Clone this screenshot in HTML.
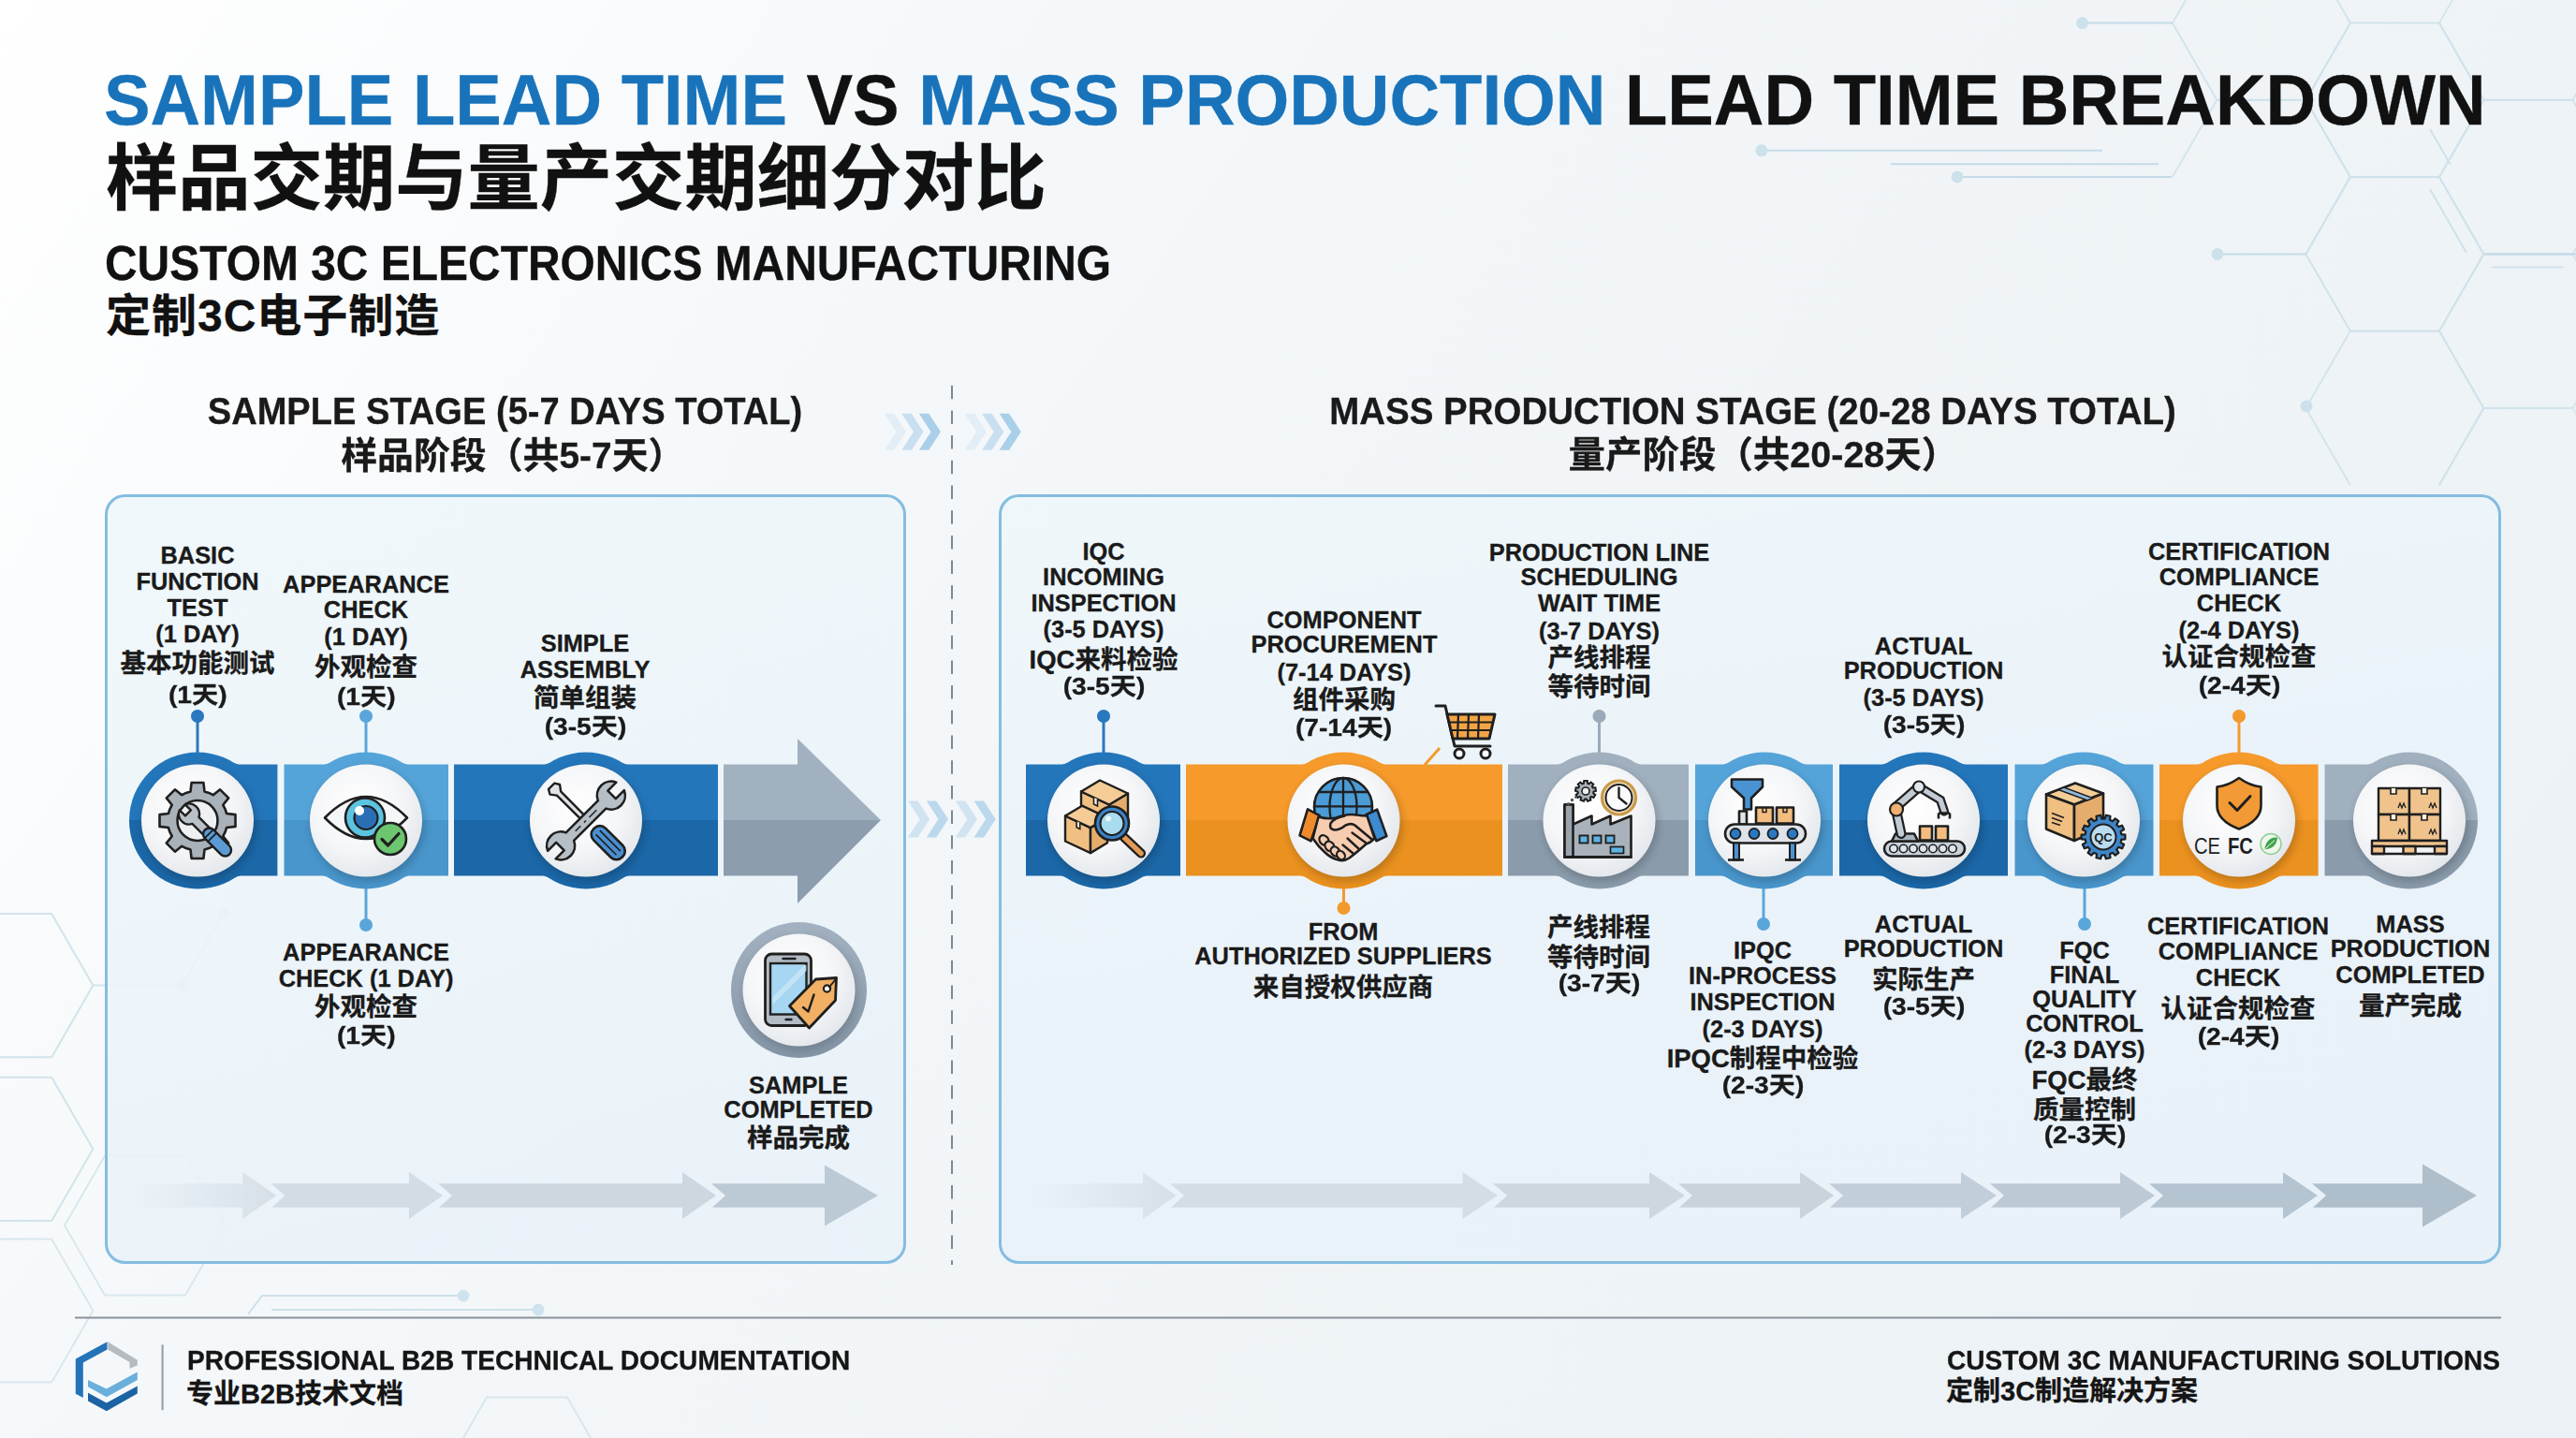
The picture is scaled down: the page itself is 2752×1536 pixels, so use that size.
<!DOCTYPE html>
<html><head><meta charset="utf-8"><title>Sample Lead Time vs Mass Production Lead Time Breakdown</title>
<style>
html,body{margin:0;padding:0;}
body{width:2752px;height:1536px;overflow:hidden;position:relative;font-family:'Liberation Sans','Noto Sans CJK SC',sans-serif;
background:linear-gradient(125deg,#ffffff 0%,#f5f8fa 30%,#f0f4f7 60%,#ebf1f5 100%);}
.t{position:absolute;white-space:nowrap;font-family:'Liberation Sans','Noto Sans CJK SC',sans-serif;-webkit-text-stroke:0.3px currentColor;}
svg{position:absolute;left:0;top:0;}
</style></head><body>
<svg width="2752" height="1536" viewBox="0 0 2752 1536"><defs>
<filter id="blur4" x="-30%" y="-30%" width="160%" height="160%"><feGaussianBlur stdDeviation="4"/></filter>
<radialGradient id="discg" cx="42%" cy="38%" r="65%"><stop offset="0" stop-color="#ffffff"/><stop offset="0.6" stop-color="#f5f6f8"/><stop offset="1" stop-color="#e3e7eb"/></radialGradient>
<linearGradient id="rg_dark" x1="0" y1="0" x2="0" y2="1"><stop offset="0" stop-color="#2677bf"/><stop offset="1" stop-color="#1a63a8"/></linearGradient>
<linearGradient id="rg_light" x1="0" y1="0" x2="0" y2="1"><stop offset="0" stop-color="#5aa6dc"/><stop offset="1" stop-color="#4990c8"/></linearGradient>
<linearGradient id="rg_orange" x1="0" y1="0" x2="0" y2="1"><stop offset="0" stop-color="#f49a2c"/><stop offset="1" stop-color="#e2891c"/></linearGradient>
<linearGradient id="rg_gray" x1="0" y1="0" x2="0" y2="1"><stop offset="0" stop-color="#a3b2c0"/><stop offset="1" stop-color="#8596a7"/></linearGradient>
<linearGradient id="panelg" x1="0" y1="0" x2="0.3" y2="1"><stop offset="0" stop-color="#eef7fa"/><stop offset="0.5" stop-color="#ecf5fa"/><stop offset="1" stop-color="#e9f2f9"/></linearGradient>
<linearGradient id="panelg2" x1="0" y1="0" x2="0.3" y2="1"><stop offset="0" stop-color="#eef7fa"/><stop offset="0.5" stop-color="#eaf3fa"/><stop offset="1" stop-color="#e8f1f9"/></linearGradient>
<linearGradient id="rs_dark" x1="0" y1="0" x2="0" y2="1"><stop offset="0" stop-color="#2476bb"/><stop offset="0.5" stop-color="#2476bb"/><stop offset="0.5" stop-color="#1b67a7"/><stop offset="1" stop-color="#1b67a7"/></linearGradient>
<linearGradient id="rs_light" x1="0" y1="0" x2="0" y2="1"><stop offset="0" stop-color="#55a4d9"/><stop offset="0.5" stop-color="#55a4d9"/><stop offset="0.5" stop-color="#4996cc"/><stop offset="1" stop-color="#4996cc"/></linearGradient>
<linearGradient id="rs_orange" x1="0" y1="0" x2="0" y2="1"><stop offset="0" stop-color="#f69a2b"/><stop offset="0.5" stop-color="#f69a2b"/><stop offset="0.5" stop-color="#ea911f"/><stop offset="1" stop-color="#ea911f"/></linearGradient>
<linearGradient id="rs_gray" x1="0" y1="0" x2="0" y2="1"><stop offset="0" stop-color="#a0b0be"/><stop offset="0.5" stop-color="#a0b0be"/><stop offset="0.5" stop-color="#8a9bab"/><stop offset="1" stop-color="#8a9bab"/></linearGradient>

<linearGradient id="af1" x1="140" y1="0" x2="295" y2="0" gradientUnits="userSpaceOnUse"><stop offset="0" stop-color="#d9e2e9" stop-opacity="0"/><stop offset="1" stop-color="#d6dfe6"/></linearGradient>
<linearGradient id="af2" x1="1099" y1="0" x2="1256" y2="0" gradientUnits="userSpaceOnUse"><stop offset="0" stop-color="#d9e2e9" stop-opacity="0"/><stop offset="1" stop-color="#d6dfe6"/></linearGradient>
</defs>
<g id="bg"><line x1="2510.9" y1="24.6" x2="2463.4" y2="106.9" stroke="#cfe2ea" stroke-width="2" opacity="0.9"/><line x1="2463.4" y1="106.9" x2="2368.4" y2="106.9" stroke="#cfe2ea" stroke-width="2" opacity="0.9"/><line x1="2368.4" y1="106.9" x2="2320.9" y2="24.6" stroke="#cfe2ea" stroke-width="2" opacity="0.9"/><line x1="2320.9" y1="24.6" x2="2368.4" y2="-57.7" stroke="#cfe2ea" stroke-width="2" opacity="0.9"/><line x1="2368.4" y1="-57.7" x2="2463.4" y2="-57.7" stroke="#cfe2ea" stroke-width="2" opacity="0.9"/><line x1="2463.4" y1="-57.7" x2="2510.9" y2="24.6" stroke="#cfe2ea" stroke-width="2" opacity="0.9"/><line x1="2320.9" y1="189.1" x2="2368.4" y2="106.8" stroke="#cfe2ea" stroke-width="2" opacity="0.8"/><line x1="2368.4" y1="106.8" x2="2463.4" y2="106.8" stroke="#cfe2ea" stroke-width="2" opacity="0.8"/><line x1="2463.4" y1="106.8" x2="2510.9" y2="189.1" stroke="#cfe2ea" stroke-width="2" opacity="0.8"/><line x1="2510.9" y1="189.1" x2="2463.4" y2="271.4" stroke="#cfe2ea" stroke-width="2" opacity="0.8"/><line x1="2653.4" y1="106.9" x2="2605.9" y2="189.2" stroke="#cfe2ea" stroke-width="2" opacity="0.9"/><line x1="2605.9" y1="189.2" x2="2510.9" y2="189.2" stroke="#cfe2ea" stroke-width="2" opacity="0.9"/><line x1="2510.9" y1="189.2" x2="2463.4" y2="106.9" stroke="#cfe2ea" stroke-width="2" opacity="0.9"/><line x1="2463.4" y1="106.9" x2="2510.9" y2="24.6" stroke="#cfe2ea" stroke-width="2" opacity="0.9"/><line x1="2510.9" y1="24.6" x2="2605.9" y2="24.6" stroke="#cfe2ea" stroke-width="2" opacity="0.9"/><line x1="2605.9" y1="24.6" x2="2653.4" y2="106.9" stroke="#cfe2ea" stroke-width="2" opacity="0.9"/><line x1="2653.4" y1="271.4" x2="2605.9" y2="353.7" stroke="#cfe2ea" stroke-width="2" opacity="0.95"/><line x1="2605.9" y1="353.7" x2="2510.9" y2="353.7" stroke="#cfe2ea" stroke-width="2" opacity="0.95"/><line x1="2510.9" y1="353.7" x2="2463.4" y2="271.4" stroke="#cfe2ea" stroke-width="2" opacity="0.95"/><line x1="2463.4" y1="271.4" x2="2510.9" y2="189.1" stroke="#cfe2ea" stroke-width="2" opacity="0.95"/><line x1="2510.9" y1="189.1" x2="2605.9" y2="189.1" stroke="#cfe2ea" stroke-width="2" opacity="0.95"/><line x1="2605.9" y1="189.1" x2="2653.4" y2="271.4" stroke="#cfe2ea" stroke-width="2" opacity="0.95"/><line x1="2510.9" y1="518.2" x2="2463.4" y2="435.9" stroke="#cfe2ea" stroke-width="2" opacity="0.85"/><line x1="2463.4" y1="435.9" x2="2510.9" y2="353.6" stroke="#cfe2ea" stroke-width="2" opacity="0.85"/><line x1="2510.9" y1="353.6" x2="2605.9" y2="353.6" stroke="#cfe2ea" stroke-width="2" opacity="0.85"/><line x1="2605.9" y1="353.6" x2="2653.4" y2="435.9" stroke="#cfe2ea" stroke-width="2" opacity="0.85"/><line x1="2653.4" y1="435.9" x2="2605.9" y2="518.2" stroke="#cfe2ea" stroke-width="2" opacity="0.85"/><line x1="2795.9" y1="24.6" x2="2748.4" y2="106.9" stroke="#cfe2ea" stroke-width="2" opacity="0.8"/><line x1="2748.4" y1="106.9" x2="2653.4" y2="106.9" stroke="#cfe2ea" stroke-width="2" opacity="0.8"/><line x1="2653.4" y1="106.9" x2="2605.9" y2="24.6" stroke="#cfe2ea" stroke-width="2" opacity="0.8"/><line x1="2605.9" y1="24.6" x2="2653.4" y2="-57.7" stroke="#cfe2ea" stroke-width="2" opacity="0.8"/><line x1="2653.4" y1="-57.7" x2="2748.4" y2="-57.7" stroke="#cfe2ea" stroke-width="2" opacity="0.8"/><line x1="2748.4" y1="-57.7" x2="2795.9" y2="24.6" stroke="#cfe2ea" stroke-width="2" opacity="0.8"/><line x1="2795.9" y1="189.1" x2="2748.4" y2="271.4" stroke="#cfe2ea" stroke-width="2" opacity="0.85"/><line x1="2748.4" y1="271.4" x2="2653.4" y2="271.4" stroke="#cfe2ea" stroke-width="2" opacity="0.85"/><line x1="2653.4" y1="271.4" x2="2605.9" y2="189.1" stroke="#cfe2ea" stroke-width="2" opacity="0.85"/><line x1="2605.9" y1="189.1" x2="2653.4" y2="106.8" stroke="#cfe2ea" stroke-width="2" opacity="0.85"/><line x1="2653.4" y1="106.8" x2="2748.4" y2="106.8" stroke="#cfe2ea" stroke-width="2" opacity="0.85"/><line x1="2748.4" y1="106.8" x2="2795.9" y2="189.1" stroke="#cfe2ea" stroke-width="2" opacity="0.85"/><line x1="2795.9" y1="353.6" x2="2748.4" y2="435.9" stroke="#cfe2ea" stroke-width="2" opacity="0.8"/><line x1="2748.4" y1="435.9" x2="2653.4" y2="435.9" stroke="#cfe2ea" stroke-width="2" opacity="0.8"/><line x1="2653.4" y1="435.9" x2="2605.9" y2="353.6" stroke="#cfe2ea" stroke-width="2" opacity="0.8"/><line x1="2605.9" y1="353.6" x2="2653.4" y2="271.3" stroke="#cfe2ea" stroke-width="2" opacity="0.8"/><line x1="2653.4" y1="271.3" x2="2748.4" y2="271.3" stroke="#cfe2ea" stroke-width="2" opacity="0.8"/><line x1="2748.4" y1="271.3" x2="2795.9" y2="353.6" stroke="#cfe2ea" stroke-width="2" opacity="0.8"/><line x1="2605.9" y1="518.1" x2="2653.4" y2="435.8" stroke="#cfe2ea" stroke-width="2" opacity="0.6"/><line x1="2653.4" y1="435.8" x2="2748.4" y2="435.8" stroke="#cfe2ea" stroke-width="2" opacity="0.6"/><line x1="2748.4" y1="435.8" x2="2795.9" y2="518.1" stroke="#cfe2ea" stroke-width="2" opacity="0.6"/><g stroke="#cfe2ea" stroke-width="2" fill="none"><line x1="2596" y1="138" x2="2618" y2="176"/><line x1="2596" y1="202" x2="2635" y2="270"/><line x1="2662.5" y1="285.4" x2="2738.5" y2="285.4"/></g><g stroke="#c4dbe7" stroke-width="2" fill="none"><line x1="1882" y1="160.8" x2="2246" y2="160.8"/><line x1="2020" y1="175.2" x2="2306" y2="175.2"/><line x1="2091" y1="188.9" x2="2320" y2="188.9"/><line x1="2224.5" y1="24.6" x2="2320.9" y2="24.6"/><line x1="2369" y1="271.4" x2="2463.4" y2="271.4"/><line x1="2653.4" y1="271.4" x2="2752" y2="271.4"/></g><circle cx="1882" cy="160.8" r="6.5" fill="#cde1eb"/><circle cx="2091" cy="188.9" r="6.5" fill="#cde1eb"/><circle cx="2224.5" cy="24.6" r="6.5" fill="#cde1eb"/><circle cx="2369" cy="271.4" r="6.5" fill="#cde1eb"/><circle cx="2464" cy="434" r="6.5" fill="#cde1eb"/><line x1="99.4" y1="1052.6" x2="55.2" y2="1129.2" stroke="#d2e3eb" stroke-width="2" opacity="1.0"/><line x1="55.2" y1="1129.2" x2="-33.2" y2="1129.2" stroke="#d2e3eb" stroke-width="2" opacity="1.0"/><line x1="-33.2" y1="1129.2" x2="-77.4" y2="1052.6" stroke="#d2e3eb" stroke-width="2" opacity="1.0"/><line x1="-77.4" y1="1052.6" x2="-33.2" y2="976.0" stroke="#d2e3eb" stroke-width="2" opacity="1.0"/><line x1="-33.2" y1="976.0" x2="55.2" y2="976.0" stroke="#d2e3eb" stroke-width="2" opacity="1.0"/><line x1="55.2" y1="976.0" x2="99.4" y2="1052.6" stroke="#d2e3eb" stroke-width="2" opacity="1.0"/><line x1="99.4" y1="1227.3" x2="55.2" y2="1303.9" stroke="#d2e3eb" stroke-width="2" opacity="1.0"/><line x1="55.2" y1="1303.9" x2="-33.2" y2="1303.9" stroke="#d2e3eb" stroke-width="2" opacity="1.0"/><line x1="-33.2" y1="1303.9" x2="-77.4" y2="1227.3" stroke="#d2e3eb" stroke-width="2" opacity="1.0"/><line x1="-77.4" y1="1227.3" x2="-33.2" y2="1150.7" stroke="#d2e3eb" stroke-width="2" opacity="1.0"/><line x1="-33.2" y1="1150.7" x2="55.2" y2="1150.7" stroke="#d2e3eb" stroke-width="2" opacity="1.0"/><line x1="55.2" y1="1150.7" x2="99.4" y2="1227.3" stroke="#d2e3eb" stroke-width="2" opacity="1.0"/><line x1="241.0" y1="1309.0" x2="198.0" y2="1383.5" stroke="#d2e3eb" stroke-width="2" opacity="0.8"/><line x1="198.0" y1="1383.5" x2="112.0" y2="1383.5" stroke="#d2e3eb" stroke-width="2" opacity="0.8"/><line x1="112.0" y1="1383.5" x2="69.0" y2="1309.0" stroke="#d2e3eb" stroke-width="2" opacity="0.8"/><line x1="69.0" y1="1309.0" x2="112.0" y2="1234.5" stroke="#d2e3eb" stroke-width="2" opacity="0.8"/><line x1="112.0" y1="1234.5" x2="198.0" y2="1234.5" stroke="#d2e3eb" stroke-width="2" opacity="0.8"/><line x1="198.0" y1="1234.5" x2="241.0" y2="1309.0" stroke="#d2e3eb" stroke-width="2" opacity="0.8"/><line x1="99.4" y1="1400.0" x2="55.2" y2="1476.6" stroke="#d2e3eb" stroke-width="2" opacity="0.8"/><line x1="55.2" y1="1476.6" x2="-33.2" y2="1476.6" stroke="#d2e3eb" stroke-width="2" opacity="0.8"/><line x1="-33.2" y1="1476.6" x2="-77.4" y2="1400.0" stroke="#d2e3eb" stroke-width="2" opacity="0.8"/><line x1="-77.4" y1="1400.0" x2="-33.2" y2="1323.4" stroke="#d2e3eb" stroke-width="2" opacity="0.8"/><line x1="-33.2" y1="1323.4" x2="55.2" y2="1323.4" stroke="#d2e3eb" stroke-width="2" opacity="0.8"/><line x1="55.2" y1="1323.4" x2="99.4" y2="1400.0" stroke="#d2e3eb" stroke-width="2" opacity="0.8"/><line x1="477.0" y1="1567.0" x2="520.0" y2="1492.5" stroke="#d2e3eb" stroke-width="2" opacity="0.8"/><line x1="520.0" y1="1492.5" x2="606.0" y2="1492.5" stroke="#d2e3eb" stroke-width="2" opacity="0.8"/><line x1="606.0" y1="1492.5" x2="649.0" y2="1567.0" stroke="#d2e3eb" stroke-width="2" opacity="0.8"/><g stroke="#d2e3eb" stroke-width="2" fill="none"><line x1="99.5" y1="1052.6" x2="194.6" y2="1052.6"/><line x1="194.6" y1="1052.6" x2="238.8" y2="975.2"/></g><circle cx="194.6" cy="1052.6" r="6" fill="#d2e3eb"/><circle cx="238.8" cy="975.2" r="6" fill="#d2e3eb"/><g stroke="#cde0ea" stroke-width="2" fill="none"><polyline points="265,1404 280,1384 495,1384"/><line x1="290" y1="1399" x2="575" y2="1399"/></g><circle cx="495" cy="1384" r="6.5" fill="#cfe3ee"/><circle cx="575" cy="1399" r="6.5" fill="#cfe3ee"/></g>
<g id="panels"><rect x="113.5" y="529.5" width="853" height="819" rx="20" fill="url(#panelg)" fill-opacity="0.88" stroke="#84bde0" stroke-width="3"/><rect x="1068.5" y="529.5" width="1602" height="819" rx="20" fill="url(#panelg2)" fill-opacity="0.88" stroke="#84bde0" stroke-width="3"/><line x1="1017" y1="411.7" x2="1017" y2="1351" stroke="#7d8992" stroke-width="2" stroke-dasharray="14.5 12.2"/><path d="M944.8,441.8 L955.3,441.8 L968.0,461.3 L955.3,480.8 L944.8,480.8 L957.5,461.3 Z" fill="#9cc8e6" opacity="0.2"/><path d="M963.3,441.8 L973.8,441.8 L986.5,461.3 L973.8,480.8 L963.3,480.8 L976.0,461.3 Z" fill="#9cc8e6" opacity="0.5"/><path d="M981.8,441.8 L992.3,441.8 L1005.0,461.3 L992.3,480.8 L981.8,480.8 L994.5,461.3 Z" fill="#9cc8e6" opacity="0.85"/><path d="M1030.6,441.8 L1041.1,441.8 L1053.8,461.3 L1041.1,480.8 L1030.6,480.8 L1043.3,461.3 Z" fill="#9cc8e6" opacity="0.2"/><path d="M1049.1,441.8 L1059.6,441.8 L1072.3,461.3 L1059.6,480.8 L1049.1,480.8 L1061.8,461.3 Z" fill="#9cc8e6" opacity="0.5"/><path d="M1067.6,441.8 L1078.1,441.8 L1090.8,461.3 L1078.1,480.8 L1067.6,480.8 L1080.3,461.3 Z" fill="#9cc8e6" opacity="0.85"/><path d="M970.0,855.6 L980.5,855.6 L993.2,875.1 L980.5,894.6 L970.0,894.6 L982.7,875.1 Z" fill="#9cc8e6" opacity="0.4"/><path d="M989.8,855.6 L1000.3,855.6 L1013.0,875.1 L1000.3,894.6 L989.8,894.6 L1002.5,875.1 Z" fill="#9cc8e6" opacity="0.65"/><path d="M1020.7,855.6 L1031.2,855.6 L1043.9,875.1 L1031.2,894.6 L1020.7,894.6 L1033.4,875.1 Z" fill="#9cc8e6" opacity="0.4"/><path d="M1040.5,855.6 L1051.0,855.6 L1063.7,875.1 L1051.0,894.6 L1040.5,894.6 L1053.2,875.1 Z" fill="#9cc8e6" opacity="0.65"/><path d="M140,1264.3 L259,1264.3 L259,1252 L295.4,1277 L259,1302 L259,1289.7 L140,1289.7 Z" fill="url(#af1)"/><path d="M289.4,1264.3 L437,1264.3 L437,1252 L473,1277 L437,1302 L437,1289.7 L290.4,1289.7 L304.4,1277 Z" fill="#d2dce4"/><path d="M468,1264.3 L729,1264.3 L729,1252 L765,1277 L729,1302 L729,1289.7 L469,1289.7 L483,1277 Z" fill="#ccd7e0"/><path d="M760,1264.3 L881,1264.3 L881,1244.5 L938,1277 L881,1309.5 L881,1289.7 L761,1289.7 L775,1277 Z" fill="#bccad6"/><path d="M1099,1264.3 L1221,1264.3 L1221,1252 L1256.5,1277 L1221,1302 L1221,1289.7 L1099,1289.7 Z" fill="url(#af2)"/><path d="M1250,1264.3 L1562.5,1264.3 L1562.5,1252 L1600,1277 L1562.5,1302 L1562.5,1289.7 L1251,1289.7 L1265,1277 Z" fill="#d3dde4"/><path d="M1595,1264.3 L1762,1264.3 L1762,1252 L1800,1277 L1762,1302 L1762,1289.7 L1596,1289.7 L1610,1277 Z" fill="#cdd7df"/><path d="M1793,1264.3 L1923,1264.3 L1923,1252 L1959,1277 L1923,1302 L1923,1289.7 L1794,1289.7 L1808,1277 Z" fill="#c8d3dc"/><path d="M1954,1264.3 L2095,1264.3 L2095,1252 L2133,1277 L2095,1302 L2095,1289.7 L1955,1289.7 L1969,1277 Z" fill="#c2ceda"/><path d="M2126,1264.3 L2265,1264.3 L2265,1252 L2302,1277 L2265,1302 L2265,1289.7 L2127,1289.7 L2141,1277 Z" fill="#bdcad6"/><path d="M2296,1264.3 L2439,1264.3 L2439,1252 L2476,1277 L2439,1302 L2439,1289.7 L2297,1289.7 L2311,1277 Z" fill="#b5c4d1"/><path d="M2470,1264.3 L2588,1264.3 L2588,1243.5 L2646,1277 L2588,1310.5 L2588,1289.7 L2471,1289.7 L2485,1277 Z" fill="#aebecb"/></g>
<g id="timeline"><rect x="211" y="816.5" width="85.39999999999998" height="59.5" fill="#2476bb"/><rect x="211" y="876" width="85.39999999999998" height="59.5" fill="#1b67a7"/><rect x="303.5" y="816.5" width="175.5" height="59.5" fill="#55a4d9"/><rect x="303.5" y="876" width="175.5" height="59.5" fill="#4996cc"/><rect x="485" y="816.5" width="282" height="59.5" fill="#2476bb"/><rect x="485" y="876" width="282" height="59.5" fill="#1b67a7"/><path d="M773,816.5 L852,816.5 L852,789 L941,876 L773,876 Z" fill="#a2b1bf"/><path d="M773,876 L941,876 L852,965 L852,935.5 L773,935.5 Z" fill="#8c9dad"/><rect x="1096" y="816.5" width="165" height="59.5" fill="#2476bb"/><rect x="1096" y="876" width="165" height="59.5" fill="#1b67a7"/><rect x="1267" y="816.5" width="338" height="59.5" fill="#f69a2b"/><rect x="1267" y="876" width="338" height="59.5" fill="#ea911f"/><rect x="1611" y="816.5" width="193" height="59.5" fill="#a0b0be"/><rect x="1611" y="876" width="193" height="59.5" fill="#8a9bab"/><rect x="1811" y="816.5" width="147" height="59.5" fill="#55a4d9"/><rect x="1811" y="876" width="147" height="59.5" fill="#4996cc"/><rect x="1965" y="816.5" width="180" height="59.5" fill="#2476bb"/><rect x="1965" y="876" width="180" height="59.5" fill="#1b67a7"/><rect x="2152.5" y="816.5" width="148.0" height="59.5" fill="#55a4d9"/><rect x="2152.5" y="876" width="148.0" height="59.5" fill="#4996cc"/><rect x="2307" y="816.5" width="169.5999999999999" height="59.5" fill="#f69a2b"/><rect x="2307" y="876" width="169.5999999999999" height="59.5" fill="#ea911f"/><rect x="2483.5" y="816.5" width="90.5" height="59.5" fill="#a0b0be"/><rect x="2483.5" y="876" width="90.5" height="59.5" fill="#8a9bab"/><line x1="211" y1="765" x2="211" y2="805" stroke="#2a78bf" stroke-width="3"/><circle cx="211" cy="765" r="7" fill="#2a78bf"/><line x1="391" y1="765" x2="391" y2="805" stroke="#5aa6da" stroke-width="3"/><circle cx="391" cy="765" r="7" fill="#5aa6da"/><line x1="391" y1="988" x2="391" y2="948" stroke="#5aa6da" stroke-width="3"/><circle cx="391" cy="988" r="7" fill="#5aa6da"/><line x1="1179" y1="765" x2="1179" y2="805" stroke="#2a78bf" stroke-width="3"/><circle cx="1179" cy="765" r="7" fill="#2a78bf"/><line x1="1708.5" y1="765" x2="1708.5" y2="805" stroke="#9aaab8" stroke-width="3"/><circle cx="1708.5" cy="765" r="7" fill="#9aaab8"/><line x1="2392" y1="765" x2="2392" y2="805" stroke="#f29a2e" stroke-width="3"/><circle cx="2392" cy="765" r="7" fill="#f29a2e"/><line x1="1435.5" y1="970" x2="1435.5" y2="948" stroke="#f29a2e" stroke-width="3"/><circle cx="1435.5" cy="970" r="7" fill="#f29a2e"/><line x1="1884" y1="987" x2="1884" y2="948" stroke="#5aa6da" stroke-width="3"/><circle cx="1884" cy="987" r="7" fill="#5aa6da"/><line x1="2227" y1="987" x2="2227" y2="948" stroke="#5aa6da" stroke-width="3"/><circle cx="2227" cy="987" r="7" fill="#5aa6da"/><path d="M255.31,816.5 L249.58,818.50 L250.44,815.07 A9,9 0 0 0 255.31,816.5 Z" fill="#2476bb"/><path d="M256.83,935.5 L250.99,933.50 L251.80,937.04 A9,9 0 0 1 256.83,935.5 Z" fill="#1b67a7"/><circle cx="211" cy="876.5" r="73" fill="url(#rs_dark)"/><circle cx="213" cy="880.5" r="61" fill="#000" opacity="0.18" filter="url(#blur4)"/><circle cx="211" cy="876.5" r="60" fill="url(#discg)"/><g transform="translate(211,876.5) scale(1.0)"><path d="M-7.5,-31.1 L-6.4,-40.5 L6.4,-40.5 L7.5,-31.1 L12.2,-29.6 L16.7,-27.3 L24.1,-33.2 L33.2,-24.1 L27.3,-16.7 L29.6,-12.2 L31.1,-7.5 L40.5,-6.4 L40.5,6.4 L31.1,7.5 L29.6,12.2 L27.3,16.7 L33.2,24.1 L24.1,33.2 L16.7,27.3 L12.2,29.6 L7.5,31.1 L6.4,40.5 L-6.4,40.5 L-7.5,31.1 L-12.2,29.6 L-16.7,27.3 L-24.1,33.2 L-33.2,24.1 L-27.3,16.7 L-29.6,12.2 L-31.1,7.5 L-40.5,6.4 L-40.5,-6.4 L-31.1,-7.5 L-29.6,-12.2 L-27.3,-16.7 L-33.2,-24.1 L-24.1,-33.2 L-16.7,-27.3 L-12.2,-29.6Z" fill="#a9b1b9" stroke="#1f1f1f" stroke-width="2.6" stroke-linejoin="round"/><circle r="21.5" fill="#eef0f2" stroke="#1f1f1f" stroke-width="2.6"/><g transform="translate(-9,-7) rotate(45)"><path d="M-10.17,4.2 L-1.5,4.2 L-1.5,-4.2 L-10.17,-4.2 A11,11 0 0 1 9.80,-5 L30,-5 L30,5 L9.80,5 A11,11 0 0 1 -10.17,4.2 Z" fill="#b9c0c7" stroke="#1f1f1f" stroke-width="2.4" stroke-linejoin="round"/><rect x="24" y="-6.5" width="37" height="13" rx="6.5" fill="#5b9bd5" stroke="#1f1f1f" stroke-width="2.4"/><line x1="30" y1="-6.5" x2="30" y2="6.5" stroke="#1f1f1f" stroke-width="1.8"/><line x1="35" y1="-6.5" x2="35" y2="6.5" stroke="#1f1f1f" stroke-width="1.8"/></g></g><path d="M346.69,816.5 L352.42,818.50 L351.56,815.07 A9,9 0 0 1 346.69,816.5 Z" fill="#55a4d9"/><path d="M435.31,816.5 L429.58,818.50 L430.44,815.07 A9,9 0 0 0 435.31,816.5 Z" fill="#55a4d9"/><path d="M345.17,935.5 L351.01,933.50 L350.20,937.04 A9,9 0 0 0 345.17,935.5 Z" fill="#4996cc"/><path d="M436.83,935.5 L430.99,933.50 L431.80,937.04 A9,9 0 0 1 436.83,935.5 Z" fill="#4996cc"/><circle cx="391" cy="876.5" r="73" fill="url(#rs_light)"/><circle cx="393" cy="880.5" r="61" fill="#000" opacity="0.18" filter="url(#blur4)"/><circle cx="391" cy="876.5" r="60" fill="url(#discg)"/><g transform="translate(391,876.5) scale(1.0)"><path d="M-44,-1 Q0,-46 44,-1 Q0,44 -44,-1 Z" fill="#f4f6f8" stroke="#1f1f1f" stroke-width="2.6" stroke-linejoin="round" transform="translate(0,-2)"/><circle cx="-1" cy="-3" r="21" fill="#5cc3e0" stroke="#1f1f1f" stroke-width="2.6"/><circle cx="0" cy="-3" r="12.5" fill="#2a6fb6" stroke="#1f1f1f" stroke-width="2.2"/><circle cx="-7" cy="-10.5" r="5" fill="#fff"/><circle cx="26" cy="19.5" r="17" fill="#6cc56f" stroke="#1f1f1f" stroke-width="2.6"/><path d="M17,20 L23.5,26.5 L35,14" fill="none" stroke="#1f1f1f" stroke-width="3.2" stroke-linecap="round" stroke-linejoin="round"/></g><path d="M581.69,816.5 L587.42,818.50 L586.56,815.07 A9,9 0 0 1 581.69,816.5 Z" fill="#2476bb"/><path d="M670.31,816.5 L664.58,818.50 L665.44,815.07 A9,9 0 0 0 670.31,816.5 Z" fill="#2476bb"/><path d="M580.17,935.5 L586.01,933.50 L585.20,937.04 A9,9 0 0 0 580.17,935.5 Z" fill="#1b67a7"/><path d="M671.83,935.5 L665.99,933.50 L666.80,937.04 A9,9 0 0 1 671.83,935.5 Z" fill="#1b67a7"/><circle cx="626" cy="876.5" r="73" fill="url(#rs_dark)"/><circle cx="628" cy="880.5" r="61" fill="#000" opacity="0.18" filter="url(#blur4)"/><circle cx="626" cy="876.5" r="60" fill="url(#discg)"/><g transform="translate(626,876.5) scale(1.0)"><g transform="rotate(45)"><path d="M-52,-4.5 L-47,-7.5 L-41,-3 L-2,-2.8 L-2,2.8 L-41,3 L-47,7.5 L-52,4.5 Z" fill="#dfe3e7" stroke="#1f1f1f" stroke-width="2.4" stroke-linejoin="round"/><rect x="12" y="-9" width="43" height="18" rx="8.5" fill="#4a8fd0" stroke="#1f1f1f" stroke-width="2.6"/><line x1="18" y1="-3" x2="49" y2="-3" stroke="#1f1f1f" stroke-width="1.7"/><line x1="18" y1="3" x2="49" y2="3" stroke="#1f1f1f" stroke-width="1.7"/></g><g transform="rotate(-45)"><path d="M-24.25,-6 L24.25,-6 A15,15 0 0 1 51.75,-6 L39,-6 L39,6 L51.75,6 A15,15 0 0 1 24.25,6 L-24.25,6 A15,15 0 0 1 -51.75,6 L-39,6 L-39,-6 L-51.75,-6 A15,15 0 0 1 -24.25,-6 Z" fill="#b6bec6" stroke="#1f1f1f" stroke-width="2.6" stroke-linejoin="round"/><line x1="-16" y1="0" x2="-8" y2="0" stroke="#1f1f1f" stroke-width="1.5"/><line x1="-3" y1="0" x2="0" y2="0" stroke="#1f1f1f" stroke-width="1.5"/><line x1="5" y1="0" x2="16" y2="0" stroke="#1f1f1f" stroke-width="1.5"/></g></g><path d="M1134.69,816.5 L1140.42,818.50 L1139.56,815.07 A9,9 0 0 1 1134.69,816.5 Z" fill="#2476bb"/><path d="M1223.31,816.5 L1217.58,818.50 L1218.44,815.07 A9,9 0 0 0 1223.31,816.5 Z" fill="#2476bb"/><path d="M1133.17,935.5 L1139.01,933.50 L1138.20,937.04 A9,9 0 0 0 1133.17,935.5 Z" fill="#1b67a7"/><path d="M1224.83,935.5 L1218.99,933.50 L1219.80,937.04 A9,9 0 0 1 1224.83,935.5 Z" fill="#1b67a7"/><circle cx="1179" cy="876.5" r="73" fill="url(#rs_dark)"/><circle cx="1181" cy="880.5" r="61" fill="#000" opacity="0.18" filter="url(#blur4)"/><circle cx="1179" cy="876.5" r="60" fill="url(#discg)"/><g transform="translate(1179,876.5) scale(1.0)"><path d="M-24,-31 L6.0,-17.0 L6.0,13.0 L-24,-1.0 Z" fill="#f0bf82" stroke="#1f1f1f" stroke-width="2.4" stroke-linejoin="round"/><path d="M6.0,-17.0 L26.0,-29.0 L26.0,1.0 L6.0,13.0 Z" fill="#e5ad6c" stroke="#1f1f1f" stroke-width="2.4" stroke-linejoin="round"/><path d="M-24,-31 L6.0,-17.0 L26.0,-29.0 L-4.0,-43.0 Z" fill="#f5cc96" stroke="#1f1f1f" stroke-width="2.4" stroke-linejoin="round"/><path d="M-10.5,-24.7 l0,7.199999999999999 l4.0,2.0 l0,-7.199999999999999" fill="#fff3e0" stroke="#1f1f1f" stroke-width="1.6"/><path d="M-41,-5 L-14.0,7.6 L-14.0,34.6 L-41,22.0 Z" fill="#f0bf82" stroke="#1f1f1f" stroke-width="2.4" stroke-linejoin="round"/><path d="M-14.0,7.6 L4.0,-3.1999999999999993 L4.0,23.8 L-14.0,34.6 Z" fill="#e5ad6c" stroke="#1f1f1f" stroke-width="2.4" stroke-linejoin="round"/><path d="M-41,-5 L-14.0,7.6 L4.0,-3.1999999999999993 L-23.0,-15.799999999999999 Z" fill="#f5cc96" stroke="#1f1f1f" stroke-width="2.4" stroke-linejoin="round"/><path d="M-28.85,0.6699999999999999 l0,6.4799999999999995 l3.6,1.8 l0,-6.4799999999999995" fill="#fff3e0" stroke="#1f1f1f" stroke-width="1.6"/><line x1="22" y1="18" x2="40" y2="35" stroke="#1f1f1f" stroke-width="10" stroke-linecap="round"/><line x1="22" y1="18" x2="40" y2="35" stroke="#e39a55" stroke-width="5.5" stroke-linecap="round"/><circle cx="9" cy="3" r="18" fill="#3b82c4" stroke="#1f1f1f" stroke-width="2.6"/><circle cx="9" cy="3" r="12.5" fill="#a9dcef" stroke="#1f1f1f" stroke-width="2.2"/><circle cx="5" cy="-2" r="3" fill="#e8f6fc"/></g><path d="M1391.19,816.5 L1396.92,818.50 L1396.06,815.07 A9,9 0 0 1 1391.19,816.5 Z" fill="#f69a2b"/><path d="M1479.81,816.5 L1474.08,818.50 L1474.94,815.07 A9,9 0 0 0 1479.81,816.5 Z" fill="#f69a2b"/><path d="M1389.67,935.5 L1395.51,933.50 L1394.70,937.04 A9,9 0 0 0 1389.67,935.5 Z" fill="#ea911f"/><path d="M1481.33,935.5 L1475.49,933.50 L1476.30,937.04 A9,9 0 0 1 1481.33,935.5 Z" fill="#ea911f"/><circle cx="1435.5" cy="876.5" r="73" fill="url(#rs_orange)"/><circle cx="1437.5" cy="880.5" r="61" fill="#000" opacity="0.18" filter="url(#blur4)"/><circle cx="1435.5" cy="876.5" r="60" fill="url(#discg)"/><g transform="translate(1435.5,876.5) scale(1.0)"><circle cx="-0.5" cy="-14.5" r="31" fill="#4b9bd6" stroke="#1f1f1f" stroke-width="2.6" stroke-linejoin="round" stroke-linecap="round"/><ellipse cx="-0.5" cy="-14.5" rx="14.5" ry="31" fill="none" stroke="#1f1f1f" stroke-width="2.3"/><line x1="-0.5" y1="-45.5" x2="-0.5" y2="16.5" stroke="#1f1f1f" stroke-width="2.3"/><line x1="-27.1" y1="-30.5" x2="26.1" y2="-30.5" stroke="#1f1f1f" stroke-width="2.3"/><line x1="-31.5" y1="-15.2" x2="30.5" y2="-15.2" stroke="#1f1f1f" stroke-width="2.3"/><line x1="-27.9" y1="0" x2="26.9" y2="0" stroke="#1f1f1f" stroke-width="2.3"/><path d="M-47,15.8 L-38.5,-12.2 L-25.7,-5.4 L-35,21.8 Z" fill="#ee8a2c" stroke="#1f1f1f" stroke-width="2.6" stroke-linejoin="round" stroke-linecap="round"/><path d="M23.8,-6.3 L35.7,-11.8 L45.9,16.6 L34.9,21.7 Z" fill="#3d8bd0" stroke="#1f1f1f" stroke-width="2.6" stroke-linejoin="round" stroke-linecap="round"/><path d="M-27,-4 Q-16,-1 -8,-3 Q4,-8 14,-6 Q20,-5 25,-5 L33,19 Q28,24 24,25 Q14,34 6,40 Q0,44 -6,42 Q-14,40 -20,34 Q-27,28 -33,19 Z" fill="#f6cdb1" stroke="#1f1f1f" stroke-width="2.6" stroke-linejoin="round" stroke-linecap="round"/><path d="M1,-5 Q-10,-3 -14,3 Q-16,9 -10,10 Q-4,10 2,5 L5,4 Q9,3 12,5 L30,20" fill="#f6cdb1" stroke="#1f1f1f" stroke-width="2.6" stroke-linejoin="round" stroke-linecap="round"/><line x1="9" y1="13" x2="24" y2="24" stroke="#1f1f1f" stroke-width="2.4" stroke-linecap="round"/><line x1="4" y1="19" x2="17" y2="31" stroke="#1f1f1f" stroke-width="2.4" stroke-linecap="round"/><line x1="-1" y1="26" x2="10" y2="35" stroke="#1f1f1f" stroke-width="2.4" stroke-linecap="round"/><ellipse cx="-21" cy="21" rx="4.6" ry="5.75" transform="rotate(-40 -21 21)" fill="#f6cdb1" stroke="#1f1f1f" stroke-width="2.2"/><ellipse cx="-15" cy="27.5" rx="4.6" ry="5.75" transform="rotate(-40 -15 27.5)" fill="#f6cdb1" stroke="#1f1f1f" stroke-width="2.2"/><ellipse cx="-9" cy="33" rx="4.4" ry="5.5" transform="rotate(-40 -9 33)" fill="#f6cdb1" stroke="#1f1f1f" stroke-width="2.2"/><ellipse cx="-3" cy="37" rx="4" ry="5.0" transform="rotate(-40 -3 37)" fill="#f6cdb1" stroke="#1f1f1f" stroke-width="2.2"/></g><path d="M1664.19,816.5 L1669.92,818.50 L1669.06,815.07 A9,9 0 0 1 1664.19,816.5 Z" fill="#a0b0be"/><path d="M1752.81,816.5 L1747.08,818.50 L1747.94,815.07 A9,9 0 0 0 1752.81,816.5 Z" fill="#a0b0be"/><path d="M1662.67,935.5 L1668.51,933.50 L1667.70,937.04 A9,9 0 0 0 1662.67,935.5 Z" fill="#8a9bab"/><path d="M1754.33,935.5 L1748.49,933.50 L1749.30,937.04 A9,9 0 0 1 1754.33,935.5 Z" fill="#8a9bab"/><circle cx="1708.5" cy="876.5" r="73" fill="url(#rs_gray)"/><circle cx="1710.5" cy="880.5" r="61" fill="#000" opacity="0.18" filter="url(#blur4)"/><circle cx="1708.5" cy="876.5" r="60" fill="url(#discg)"/><g transform="translate(1708.5,876.5) scale(1.0)"><path d="M-37,39 L-37,-17 L-28,-17 L-28,4 L-8,-5 L-8,4 L12,-5 L12,4 L34,-5 L34,39 Z" fill="#a9b2ba" stroke="#1f1f1f" stroke-width="2.6" stroke-linejoin="round"/><rect x="-37" y="-17" width="9" height="56" fill="#9aa4ad" stroke="#1f1f1f" stroke-width="2.6" stroke-linejoin="round"/><rect x="-21" y="16" width="9" height="8" fill="#5fb3e3" stroke="#1f1f1f" stroke-width="1.9"/><rect x="-7" y="16" width="9" height="8" fill="#5fb3e3" stroke="#1f1f1f" stroke-width="1.9"/><rect x="7" y="16" width="9" height="8" fill="#5fb3e3" stroke="#1f1f1f" stroke-width="1.9"/><rect x="12" y="28" width="14" height="7" fill="#5fb3e3" stroke="#1f1f1f" stroke-width="1.7"/><line x1="-38" y1="39" x2="35" y2="39" stroke="#1f1f1f" stroke-width="3"/><g transform="translate(-14.5,-31.5)"><path d="M-2.1,-8.2 L-1.8,-10.9 L1.8,-10.9 L2.1,-8.2 L2.9,-8.0 L3.7,-7.7 L5.6,-9.5 L8.3,-7.2 L6.9,-5.0 L7.4,-4.2 L7.7,-3.5 L10.4,-3.6 L11.0,-0.1 L8.5,0.6 L8.4,1.5 L8.2,2.3 L10.3,3.9 L8.5,7.0 L6.1,5.9 L5.5,6.5 L4.8,7.0 L5.4,9.6 L2.0,10.8 L0.8,8.5 L0.0,8.5 L-0.8,8.5 L-2.0,10.8 L-5.4,9.6 L-4.8,7.0 L-5.5,6.5 L-6.1,5.9 L-8.5,7.0 L-10.3,3.9 L-8.2,2.3 L-8.4,1.5 L-8.5,0.6 L-11.0,-0.1 L-10.4,-3.6 L-7.7,-3.5 L-7.4,-4.2 L-6.9,-5.0 L-8.3,-7.2 L-5.6,-9.5 L-3.7,-7.7 L-2.9,-8.0Z" fill="#a8b0b8" stroke="#1f1f1f" stroke-width="2"/><circle r="4" fill="#eee" stroke="#1f1f1f" stroke-width="1.6"/></g><circle cx="-29" cy="-22" r="1.7" fill="#555"/><circle cx="-33" cy="-18" r="1.5" fill="#555"/><circle cx="-25" cy="-25" r="1.4" fill="#555"/><circle cx="21" cy="-24.5" r="18" fill="#f1e0c2" stroke="#c99a4a" stroke-width="3.2"/><circle cx="21" cy="-24.5" r="14" fill="#fbfbfb" stroke="#1f1f1f" stroke-width="2"/><path d="M21,-35 L21,-24.5 L29,-18" fill="none" stroke="#1f1f1f" stroke-width="2.4" stroke-linecap="round"/></g><path d="M1840.69,816.5 L1846.42,818.50 L1845.56,815.07 A9,9 0 0 1 1840.69,816.5 Z" fill="#55a4d9"/><path d="M1929.31,816.5 L1923.58,818.50 L1924.44,815.07 A9,9 0 0 0 1929.31,816.5 Z" fill="#55a4d9"/><path d="M1839.17,935.5 L1845.01,933.50 L1844.20,937.04 A9,9 0 0 0 1839.17,935.5 Z" fill="#4996cc"/><path d="M1930.83,935.5 L1924.99,933.50 L1925.80,937.04 A9,9 0 0 1 1930.83,935.5 Z" fill="#4996cc"/><circle cx="1885" cy="876.5" r="73" fill="url(#rs_light)"/><circle cx="1887" cy="880.5" r="61" fill="#000" opacity="0.18" filter="url(#blur4)"/><circle cx="1885" cy="876.5" r="60" fill="url(#discg)"/><g transform="translate(1885,876.5) scale(1.0)"><path d="M-35,-44 L-2,-44 L-2,-36 L-14,-24 L-14,-12 L-22,-12 L-22,-24 L-35,-36 Z" fill="#4a93d2" stroke="#1f1f1f" stroke-width="2.6" stroke-linejoin="round"/><rect x="-27" y="-10" width="8" height="14" fill="#dfe4e8" stroke="#1f1f1f" stroke-width="2.6" stroke-linejoin="round"/><rect x="-9" y="-14" width="18" height="17" fill="#f3bd80" stroke="#1f1f1f" stroke-width="2.6" stroke-linejoin="round"/><rect x="13" y="-14" width="18" height="17" fill="#f3bd80" stroke="#1f1f1f" stroke-width="2.6" stroke-linejoin="round"/><path d="M-2,-14 v5 h4 v-5" fill="none" stroke="#1f1f1f" stroke-width="1.4"/><path d="M20,-14 v5 h4 v-5" fill="none" stroke="#1f1f1f" stroke-width="1.4"/><rect x="-42" y="4" width="86" height="20" rx="10" fill="#dde3e8" stroke="#1f1f1f" stroke-width="2.6" stroke-linejoin="round"/><circle cx="-31" cy="14" r="5.5" fill="#2a78c2" stroke="#1f1f1f" stroke-width="1.8"/><circle cx="-11" cy="14" r="5.5" fill="#2a78c2" stroke="#1f1f1f" stroke-width="1.8"/><circle cx="9" cy="14" r="5.5" fill="#2a78c2" stroke="#1f1f1f" stroke-width="1.8"/><circle cx="30" cy="14" r="5.5" fill="#2a78c2" stroke="#1f1f1f" stroke-width="1.8"/><rect x="-33" y="24" width="6" height="18" fill="#4a93d2" stroke="#1f1f1f" stroke-width="2"/><rect x="27" y="24" width="6" height="18" fill="#4a93d2" stroke="#1f1f1f" stroke-width="2"/><line x1="-39" y1="42" x2="-22" y2="42" stroke="#1f1f1f" stroke-width="2.6"/><line x1="22" y1="42" x2="39" y2="42" stroke="#1f1f1f" stroke-width="2.6"/></g><path d="M2010.69,816.5 L2016.42,818.50 L2015.56,815.07 A9,9 0 0 1 2010.69,816.5 Z" fill="#2476bb"/><path d="M2099.31,816.5 L2093.58,818.50 L2094.44,815.07 A9,9 0 0 0 2099.31,816.5 Z" fill="#2476bb"/><path d="M2009.17,935.5 L2015.01,933.50 L2014.20,937.04 A9,9 0 0 0 2009.17,935.5 Z" fill="#1b67a7"/><path d="M2100.83,935.5 L2094.99,933.50 L2095.80,937.04 A9,9 0 0 1 2100.83,935.5 Z" fill="#1b67a7"/><circle cx="2055" cy="876.5" r="73" fill="url(#rs_dark)"/><circle cx="2057" cy="880.5" r="61" fill="#000" opacity="0.18" filter="url(#blur4)"/><circle cx="2055" cy="876.5" r="60" fill="url(#discg)"/><g transform="translate(2055,876.5) scale(1.0)"><rect x="-42" y="22" width="86" height="16" rx="8" fill="#c9d3dc" stroke="#1f1f1f" stroke-width="2.6" stroke-linejoin="round"/><circle cx="-32.0" cy="30" r="4.2" fill="#dfe6ec" stroke="#1f1f1f" stroke-width="1.6"/><circle cx="-21.5" cy="30" r="4.2" fill="#dfe6ec" stroke="#1f1f1f" stroke-width="1.6"/><circle cx="-11.0" cy="30" r="4.2" fill="#dfe6ec" stroke="#1f1f1f" stroke-width="1.6"/><circle cx="-0.5" cy="30" r="4.2" fill="#dfe6ec" stroke="#1f1f1f" stroke-width="1.6"/><circle cx="10.0" cy="30" r="4.2" fill="#dfe6ec" stroke="#1f1f1f" stroke-width="1.6"/><circle cx="20.5" cy="30" r="4.2" fill="#dfe6ec" stroke="#1f1f1f" stroke-width="1.6"/><circle cx="31.0" cy="30" r="4.2" fill="#dfe6ec" stroke="#1f1f1f" stroke-width="1.6"/><path d="M-34,22 L-30,14 L-10,14 L-6,22 Z" fill="#a9b6c2" stroke="#1f1f1f" stroke-width="2.6" stroke-linejoin="round"/><path d="M-24,14 L-30,-14" stroke="#1f1f1f" stroke-width="11" stroke-linecap="round"/><path d="M-24,14 L-30,-14" stroke="#c3ccd4" stroke-width="6.5" stroke-linecap="round"/><path d="M-30,-14 L-5,-36" stroke="#1f1f1f" stroke-width="11" stroke-linecap="round"/><path d="M-30,-14 L-5,-36" stroke="#c3ccd4" stroke-width="6.5" stroke-linecap="round"/><path d="M-5,-36 L18,-22 L22,-10" stroke="#1f1f1f" stroke-width="10" stroke-linecap="round" fill="none"/><path d="M-5,-36 L18,-22 L22,-10" stroke="#c3ccd4" stroke-width="5.5" stroke-linecap="round" fill="none"/><circle cx="-29" cy="-12" r="7" fill="#f0b070" stroke="#1f1f1f" stroke-width="2.2"/><circle cx="-5" cy="-36" r="6" fill="#dfe6ec" stroke="#1f1f1f" stroke-width="2.2"/><path d="M16,-8 L28,-8 M16,-8 L16,-2 M28,-8 L28,-2" stroke="#1f1f1f" stroke-width="2.6" fill="none"/><rect x="-4" y="6" width="13" height="15" fill="#f3bd80" stroke="#1f1f1f" stroke-width="2.6" stroke-linejoin="round"/><rect x="13" y="6" width="13" height="15" fill="#f3bd80" stroke="#1f1f1f" stroke-width="2.6" stroke-linejoin="round"/></g><path d="M2181.69,816.5 L2187.42,818.50 L2186.56,815.07 A9,9 0 0 1 2181.69,816.5 Z" fill="#55a4d9"/><path d="M2270.31,816.5 L2264.58,818.50 L2265.44,815.07 A9,9 0 0 0 2270.31,816.5 Z" fill="#55a4d9"/><path d="M2180.17,935.5 L2186.01,933.50 L2185.20,937.04 A9,9 0 0 0 2180.17,935.5 Z" fill="#4996cc"/><path d="M2271.83,935.5 L2265.99,933.50 L2266.80,937.04 A9,9 0 0 1 2271.83,935.5 Z" fill="#4996cc"/><circle cx="2226" cy="876.5" r="73" fill="url(#rs_light)"/><circle cx="2228" cy="880.5" r="61" fill="#000" opacity="0.18" filter="url(#blur4)"/><circle cx="2226" cy="876.5" r="60" fill="url(#discg)"/><g transform="translate(2226,876.5) scale(1.0)"><path d="M-40,-28 L-9,-40 L21,-29 L-10,-17 Z" fill="#f4cd97" stroke="#1f1f1f" stroke-width="2.6" stroke-linejoin="round"/><path d="M-40,-28 L-10,-17 L-10,21.5 L-40,9 Z" fill="#f0bf82" stroke="#1f1f1f" stroke-width="2.6" stroke-linejoin="round"/><path d="M-10,-17 L21,-29 L21,8 L-10,21.5 Z" fill="#e5ad6c" stroke="#1f1f1f" stroke-width="2.6" stroke-linejoin="round"/><path d="M-27,-33 L4,-21.5 L10,-24 L-21,-35.5 Z" fill="#8fb7d9" stroke="#1f1f1f" stroke-width="1.4"/><path d="M-34,-8 L-21,-3 M-34,-3 L-23,1 M-34,2 L-25,5" stroke="#1f1f1f" stroke-width="1.7"/><g transform="translate(21,17.5)"><path d="M19.3,-2.8 L23.4,-2.3 L23.4,2.3 L19.3,2.8 L19.0,4.3 L18.6,5.9 L22.1,8.0 L20.1,12.3 L16.2,10.9 L15.2,12.2 L14.2,13.4 L16.4,16.8 L12.8,19.7 L9.9,16.8 L8.5,17.6 L7.0,18.2 L7.5,22.3 L2.9,23.3 L1.6,19.4 L0.0,19.5 L-1.6,19.4 L-2.9,23.3 L-7.5,22.3 L-7.0,18.2 L-8.5,17.6 L-9.9,16.8 L-12.8,19.7 L-16.4,16.8 L-14.2,13.4 L-15.2,12.2 L-16.2,10.9 L-20.1,12.3 L-22.1,8.0 L-18.6,5.9 L-19.0,4.3 L-19.3,2.7 L-23.4,2.3 L-23.4,-2.3 L-19.3,-2.7 L-19.0,-4.3 L-18.6,-5.9 L-22.1,-8.0 L-20.1,-12.3 L-16.2,-10.9 L-15.2,-12.2 L-14.2,-13.4 L-16.4,-16.8 L-12.8,-19.7 L-9.9,-16.8 L-8.5,-17.6 L-7.0,-18.2 L-7.5,-22.3 L-2.9,-23.3 L-1.6,-19.4 L-0.0,-19.5 L1.6,-19.4 L2.9,-23.3 L7.5,-22.3 L7.0,-18.2 L8.5,-17.6 L9.9,-16.8 L12.8,-19.7 L16.4,-16.8 L14.2,-13.4 L15.2,-12.2 L16.2,-10.9 L20.1,-12.3 L22.1,-8.0 L18.6,-5.9 L19.0,-4.3Z" fill="#3f86c8" stroke="#1f1f1f" stroke-width="2.2" stroke-linejoin="round"/><circle r="13.5" fill="#b9dcef" stroke="#1f1f1f" stroke-width="2"/><text x="0" y="5" text-anchor="middle" font-family="Liberation Sans" font-weight="700" font-size="13" fill="#1f1f1f">QC</text></g></g><path d="M2347.69,816.5 L2353.42,818.50 L2352.56,815.07 A9,9 0 0 1 2347.69,816.5 Z" fill="#f69a2b"/><path d="M2436.31,816.5 L2430.58,818.50 L2431.44,815.07 A9,9 0 0 0 2436.31,816.5 Z" fill="#f69a2b"/><path d="M2346.17,935.5 L2352.01,933.50 L2351.20,937.04 A9,9 0 0 0 2346.17,935.5 Z" fill="#ea911f"/><path d="M2437.83,935.5 L2431.99,933.50 L2432.80,937.04 A9,9 0 0 1 2437.83,935.5 Z" fill="#ea911f"/><circle cx="2392" cy="876.5" r="73" fill="url(#rs_orange)"/><circle cx="2394" cy="880.5" r="61" fill="#000" opacity="0.18" filter="url(#blur4)"/><circle cx="2392" cy="876.5" r="60" fill="url(#discg)"/><g transform="translate(2392,876.5) scale(1.0)"><path d="M0,-45.5 Q12,-37 23.5,-36 L23.5,-16 Q23.5,0 0,9 Q-23.5,0 -23.5,-16 L-23.5,-36 Q-12,-37 0,-45.5 Z" fill="#f29a35" stroke="#1f1f1f" stroke-width="2.6" stroke-linejoin="round"/><path d="M-10,-19 L-2,-11 L12,-26" fill="none" stroke="#1f1f1f" stroke-width="3" stroke-linecap="round" stroke-linejoin="round"/><text x="-48" y="35" font-family="Liberation Sans" font-weight="400" font-size="24" fill="#1f1f1f" textLength="28" lengthAdjust="spacingAndGlyphs">CE</text><text x="-12" y="35" font-family="Liberation Sans" font-weight="700" font-size="24" fill="#1f1f1f" textLength="27" lengthAdjust="spacingAndGlyphs">FC</text><circle cx="34" cy="25" r="11" fill="#eef6ee" stroke="#8fcf92" stroke-width="1.5"/><path d="M27,31 Q30,17 41,18 Q40,30 27,31 Z" fill="#3ea34a"/><path d="M26,32 L38,21" stroke="#fff" stroke-width="1"/></g><path d="M2529.69,816.5 L2535.42,818.50 L2534.56,815.07 A9,9 0 0 1 2529.69,816.5 Z" fill="#a0b0be"/><path d="M2528.17,935.5 L2534.01,933.50 L2533.20,937.04 A9,9 0 0 0 2528.17,935.5 Z" fill="#8a9bab"/><circle cx="2574" cy="876.5" r="73" fill="url(#rs_gray)"/><circle cx="2576" cy="880.5" r="61" fill="#000" opacity="0.18" filter="url(#blur4)"/><circle cx="2574" cy="876.5" r="60" fill="url(#discg)"/><g transform="translate(2574,876.5) scale(1.0)"><rect x="-33" y="-34.5" width="33" height="28" fill="#f0c38d" stroke="#1f1f1f" stroke-width="2.4" stroke-linejoin="round"/><path d="M-20,-34.5 v6 h6 v-6" fill="#fff2df" stroke="#1f1f1f" stroke-width="1.6"/><path d="M-12,-13.5 l2,-5 l2,5 l2,-5 l2,5" fill="none" stroke="#1f1f1f" stroke-width="1.3"/><rect x="0" y="-34.5" width="33" height="28" fill="#f0c38d" stroke="#1f1f1f" stroke-width="2.4" stroke-linejoin="round"/><path d="M13,-34.5 v6 h6 v-6" fill="#fff2df" stroke="#1f1f1f" stroke-width="1.6"/><path d="M21,-13.5 l2,-5 l2,5 l2,-5 l2,5" fill="none" stroke="#1f1f1f" stroke-width="1.3"/><rect x="-33" y="-6.5" width="33" height="28" fill="#f0c38d" stroke="#1f1f1f" stroke-width="2.4" stroke-linejoin="round"/><path d="M-20,-6.5 v6 h6 v-6" fill="#fff2df" stroke="#1f1f1f" stroke-width="1.6"/><path d="M-12,14.5 l2,-5 l2,5 l2,-5 l2,5" fill="none" stroke="#1f1f1f" stroke-width="1.3"/><rect x="0" y="-6.5" width="33" height="28" fill="#f0c38d" stroke="#1f1f1f" stroke-width="2.4" stroke-linejoin="round"/><path d="M13,-6.5 v6 h6 v-6" fill="#fff2df" stroke="#1f1f1f" stroke-width="1.6"/><path d="M21,14.5 l2,-5 l2,5 l2,-5 l2,5" fill="none" stroke="#1f1f1f" stroke-width="1.3"/><rect x="-40" y="21.5" width="80" height="6" fill="#f0c38d" stroke="#1f1f1f" stroke-width="2.4" stroke-linejoin="round"/><rect x="-40" y="27.5" width="13" height="8" fill="#f0c38d" stroke="#1f1f1f" stroke-width="2.4" stroke-linejoin="round"/><rect x="-6.5" y="27.5" width="13" height="8" fill="#f0c38d" stroke="#1f1f1f" stroke-width="2.4" stroke-linejoin="round"/><rect x="27" y="27.5" width="13" height="8" fill="#f0c38d" stroke="#1f1f1f" stroke-width="2.4" stroke-linejoin="round"/><line x1="-40" y1="35.5" x2="40" y2="35.5" stroke="#1f1f1f" stroke-width="2.4"/></g><circle cx="853.5" cy="1057.5" r="72.5" fill="url(#rg_gray)"/><circle cx="855.5" cy="1061.5" r="61" fill="#000" opacity="0.15" filter="url(#blur4)"/><circle cx="853.5" cy="1057.5" r="60" fill="url(#discg)"/><g transform="translate(853.5,1057) scale(1.0)"><rect x="-36" y="-38" width="49" height="76.5" rx="7" fill="#b3bcc4" stroke="#1f1f1f" stroke-width="2.8"/><rect x="-30.5" y="-28" width="38.5" height="54.5" fill="#a6d6f1" stroke="#1f1f1f" stroke-width="2.4"/><path d="M-28,8 L6,-26 L8,-26 L8,-20 L-28,16 Z" fill="#c9e7f7" opacity="0.8"/><line x1="-17" y1="-33" x2="-4" y2="-33" stroke="#1f1f1f" stroke-width="2.4" stroke-linecap="round"/><line x1="-14" y1="32" x2="-8" y2="32" stroke="#1f1f1f" stroke-width="2.4" stroke-linecap="round"/><path d="M-10,17.5 L18,-11 L40,-12.5 L39,11.5 L11,41 Z" fill="#f2b065" stroke="#1f1f1f" stroke-width="2.8" stroke-linejoin="round"/><circle cx="30" cy="-1" r="3.6" fill="#fff" stroke="#1f1f1f" stroke-width="2.2"/><path d="M32,-2 L40,-12" stroke="#1f1f1f" stroke-width="2"/><path d="M4.5,19 L10,23.5 L16,5.5" fill="none" stroke="#1f1f1f" stroke-width="2.4" stroke-linecap="round" stroke-linejoin="round"/></g><line x1="1522" y1="817" x2="1538" y2="799" stroke="#f29a2e" stroke-width="3"/><g transform="translate(1566,781) scale(1.0)"><path d="M-32,-27 L-22,-27 L-12,16 L26,16" fill="none" stroke="#1f1f1f" stroke-width="3" stroke-linejoin="round" stroke-linecap="round"/><path d="M-20,-18 L31,-18 L25,8 L-14,8 Z" fill="#f2a445" stroke="#1f1f1f" stroke-width="3" stroke-linejoin="round" stroke-linecap="round"/><line x1="-8" y1="-18" x2="-9" y2="8" stroke="#1f1f1f" stroke-width="2.2"/><line x1="3" y1="-18" x2="2" y2="8" stroke="#1f1f1f" stroke-width="2.2"/><line x1="14" y1="-18" x2="13" y2="8" stroke="#1f1f1f" stroke-width="2.2"/><line x1="-18" y1="-9.5" x2="29" y2="-9.5" stroke="#1f1f1f" stroke-width="2"/><line x1="-16" y1="-1" x2="27" y2="-1" stroke="#1f1f1f" stroke-width="2"/><circle cx="-7" cy="24" r="5" fill="#fff" stroke="#1f1f1f" stroke-width="3"/><circle cx="21" cy="24" r="5" fill="#fff" stroke="#1f1f1f" stroke-width="3"/></g></g>
<g id="footer"><line x1="80" y1="1407.5" x2="2672" y2="1407.5" stroke="#88929b" stroke-width="2"/><line x1="173.6" y1="1436.3" x2="173.6" y2="1506.2" stroke="#9aa2a9" stroke-width="2.2"/><path d="M114.5,1433.2 L80.8,1451.6 L80.8,1488.8 L88.8,1493 L88.8,1455.5 L114.5,1441.6 Z" fill="#2373b8"/><path d="M115.2,1433.2 L146.8,1452.7 L146.8,1458.6 L138.5,1461.7 L138.5,1455.1 L115.2,1441.6 Z" fill="#b5bbc1"/><path d="M94,1473.9 L113.8,1483.6 L146.8,1465.5 L146.8,1473.9 L113.8,1492.3 L94,1481.2 Z" fill="#6aaedb"/><path d="M94,1487.8 L113.8,1498.6 L146.8,1480.5 L146.8,1488.5 L113.8,1507.3 L94,1496.5 Z" fill="#1c63a3"/></g>
</svg>
<div class=t style="left:111.0px;top:70.4px;font-size:75.6px;line-height:75.6px;color:#111;font-weight:700;"><span style="display:inline-block;transform:scaleX(0.982);transform-origin:0 50%"><span style="color:#1873ba">SAMPLE LEAD TIME</span> VS <span style="color:#1873ba">MASS PRODUCTION</span> LEAD TIME BREAKDOWN</span></div><div class=t style="left:113.0px;top:152.8px;font-size:77.3px;line-height:77.3px;color:#111;font-weight:700;"><span style="display:inline-block;transform:scaleX(1.0);transform-origin:0 50%">样品交期与量产交期细分对比</span></div><div class=t style="left:112.0px;top:257.2px;font-size:50.9px;line-height:50.9px;color:#111;font-weight:700;"><span style="display:inline-block;transform:scaleX(0.942);transform-origin:0 50%">CUSTOM 3C ELECTRONICS MANUFACTURING</span></div><div class=t style="left:113.0px;top:313.5px;font-size:48px;line-height:48px;color:#111;font-weight:700;"><span style="display:inline-block;transform:scaleX(1.0);transform-origin:0 50%"><span style="letter-spacing:1px">定制3C电子制造</span></span></div><div class=t style="left:39.5px;width:1000px;text-align:center;top:419.1px;font-size:40.7px;line-height:40.7px;color:#1a1a1a;font-weight:700;"><span style="display:inline-block;transform:scaleX(0.936);transform-origin:50% 50%">SAMPLE STAGE (5-7 DAYS TOTAL)</span></div><div class=t style="left:47.5px;width:1000px;text-align:center;top:467.9px;font-size:38.5px;line-height:38.5px;color:#1a1a1a;font-weight:700;"><span style="display:inline-block;transform:scaleX(1.01);transform-origin:50% 50%">样品阶段（共5-7天）</span></div><div class=t style="left:1373.0px;width:1000px;text-align:center;top:419.1px;font-size:40.7px;line-height:40.7px;color:#1a1a1a;font-weight:700;"><span style="display:inline-block;transform:scaleX(0.945);transform-origin:50% 50%">MASS PRODUCTION STAGE (20-28 DAYS TOTAL)</span></div><div class=t style="left:1384.0px;width:1000px;text-align:center;top:465.9px;font-size:39px;line-height:39px;color:#1a1a1a;font-weight:700;"><span style="display:inline-block;transform:scaleX(1.012);transform-origin:50% 50%">量产阶段（共20-28天）</span></div><div class=t style="left:-289.0px;width:1000px;text-align:center;top:581.0px;font-size:25.4px;line-height:25.4px;color:#1a1a1a;font-weight:700;"><span style="display:inline-block;transform:scaleX(1.0);transform-origin:50% 50%">BASIC</span></div><div class=t style="left:-289.0px;width:1000px;text-align:center;top:609.0px;font-size:25.4px;line-height:25.4px;color:#1a1a1a;font-weight:700;"><span style="display:inline-block;transform:scaleX(1.0);transform-origin:50% 50%">FUNCTION</span></div><div class=t style="left:-289.0px;width:1000px;text-align:center;top:636.5px;font-size:25.4px;line-height:25.4px;color:#1a1a1a;font-weight:700;"><span style="display:inline-block;transform:scaleX(1.0);transform-origin:50% 50%">TEST</span></div><div class=t style="left:-289.0px;width:1000px;text-align:center;top:665.0px;font-size:25.4px;line-height:25.4px;color:#1a1a1a;font-weight:700;"><span style="display:inline-block;transform:scaleX(1.0);transform-origin:50% 50%">(1 DAY)</span></div><div class=t style="left:-289.0px;width:1000px;text-align:center;top:694.8px;font-size:27.5px;line-height:27.5px;color:#1a1a1a;font-weight:700;"><span style="display:inline-block;transform:scaleX(1.0);transform-origin:50% 50%">基本功能测试</span></div><div class=t style="left:-289.0px;width:1000px;text-align:center;top:730.0px;font-size:25.4px;line-height:25.4px;color:#1a1a1a;font-weight:700;"><span style="display:inline-block;transform:scaleX(1.11);transform-origin:50% 50%">(1天)</span></div><div class=t style="left:-109.0px;width:1000px;text-align:center;top:612.0px;font-size:25.4px;line-height:25.4px;color:#1a1a1a;font-weight:700;"><span style="display:inline-block;transform:scaleX(1.0);transform-origin:50% 50%">APPEARANCE</span></div><div class=t style="left:-109.0px;width:1000px;text-align:center;top:639.4px;font-size:25.4px;line-height:25.4px;color:#1a1a1a;font-weight:700;"><span style="display:inline-block;transform:scaleX(1.0);transform-origin:50% 50%">CHECK</span></div><div class=t style="left:-109.0px;width:1000px;text-align:center;top:667.5px;font-size:25.4px;line-height:25.4px;color:#1a1a1a;font-weight:700;"><span style="display:inline-block;transform:scaleX(1.0);transform-origin:50% 50%">(1 DAY)</span></div><div class=t style="left:-109.0px;width:1000px;text-align:center;top:699.3px;font-size:27.5px;line-height:27.5px;color:#1a1a1a;font-weight:700;"><span style="display:inline-block;transform:scaleX(1.0);transform-origin:50% 50%">外观检查</span></div><div class=t style="left:-109.0px;width:1000px;text-align:center;top:732.0px;font-size:25.4px;line-height:25.4px;color:#1a1a1a;font-weight:700;"><span style="display:inline-block;transform:scaleX(1.11);transform-origin:50% 50%">(1天)</span></div><div class=t style="left:125.0px;width:1000px;text-align:center;top:675.0px;font-size:25.4px;line-height:25.4px;color:#1a1a1a;font-weight:700;"><span style="display:inline-block;transform:scaleX(1.0);transform-origin:50% 50%">SIMPLE</span></div><div class=t style="left:125.0px;width:1000px;text-align:center;top:703.3px;font-size:25.4px;line-height:25.4px;color:#1a1a1a;font-weight:700;"><span style="display:inline-block;transform:scaleX(1.0);transform-origin:50% 50%">ASSEMBLY</span></div><div class=t style="left:125.0px;width:1000px;text-align:center;top:731.9px;font-size:27.5px;line-height:27.5px;color:#1a1a1a;font-weight:700;"><span style="display:inline-block;transform:scaleX(1.0);transform-origin:50% 50%">简单组装</span></div><div class=t style="left:125.0px;width:1000px;text-align:center;top:763.5px;font-size:25.4px;line-height:25.4px;color:#1a1a1a;font-weight:700;"><span style="display:inline-block;transform:scaleX(1.11);transform-origin:50% 50%">(3-5天)</span></div><div class=t style="left:-109.0px;width:1000px;text-align:center;top:1005.0px;font-size:25.4px;line-height:25.4px;color:#1a1a1a;font-weight:700;"><span style="display:inline-block;transform:scaleX(1.0);transform-origin:50% 50%">APPEARANCE</span></div><div class=t style="left:-109.0px;width:1000px;text-align:center;top:1033.0px;font-size:25.4px;line-height:25.4px;color:#1a1a1a;font-weight:700;"><span style="display:inline-block;transform:scaleX(1.0);transform-origin:50% 50%">CHECK (1 DAY)</span></div><div class=t style="left:-109.0px;width:1000px;text-align:center;top:1062.3px;font-size:27.5px;line-height:27.5px;color:#1a1a1a;font-weight:700;"><span style="display:inline-block;transform:scaleX(1.0);transform-origin:50% 50%">外观检查</span></div><div class=t style="left:-109.0px;width:1000px;text-align:center;top:1094.0px;font-size:25.4px;line-height:25.4px;color:#1a1a1a;font-weight:700;"><span style="display:inline-block;transform:scaleX(1.11);transform-origin:50% 50%">(1天)</span></div><div class=t style="left:353.0px;width:1000px;text-align:center;top:1147.0px;font-size:25.4px;line-height:25.4px;color:#1a1a1a;font-weight:700;"><span style="display:inline-block;transform:scaleX(1.0);transform-origin:50% 50%">SAMPLE</span></div><div class=t style="left:353.0px;width:1000px;text-align:center;top:1173.0px;font-size:25.4px;line-height:25.4px;color:#1a1a1a;font-weight:700;"><span style="display:inline-block;transform:scaleX(1.0);transform-origin:50% 50%">COMPLETED</span></div><div class=t style="left:353.0px;width:1000px;text-align:center;top:1202.3px;font-size:27.5px;line-height:27.5px;color:#1a1a1a;font-weight:700;"><span style="display:inline-block;transform:scaleX(1.0);transform-origin:50% 50%">样品完成</span></div><div class=t style="left:679.0px;width:1000px;text-align:center;top:577.0px;font-size:25.4px;line-height:25.4px;color:#1a1a1a;font-weight:700;"><span style="display:inline-block;transform:scaleX(1.0);transform-origin:50% 50%">IQC</span></div><div class=t style="left:679.0px;width:1000px;text-align:center;top:604.0px;font-size:25.4px;line-height:25.4px;color:#1a1a1a;font-weight:700;"><span style="display:inline-block;transform:scaleX(1.0);transform-origin:50% 50%">INCOMING</span></div><div class=t style="left:679.0px;width:1000px;text-align:center;top:632.0px;font-size:25.4px;line-height:25.4px;color:#1a1a1a;font-weight:700;"><span style="display:inline-block;transform:scaleX(1.0);transform-origin:50% 50%">INSPECTION</span></div><div class=t style="left:679.0px;width:1000px;text-align:center;top:660.0px;font-size:25.4px;line-height:25.4px;color:#1a1a1a;font-weight:700;"><span style="display:inline-block;transform:scaleX(1.0);transform-origin:50% 50%">(3-5 DAYS)</span></div><div class=t style="left:679.0px;width:1000px;text-align:center;top:691.3px;font-size:27.5px;line-height:27.5px;color:#1a1a1a;font-weight:700;"><span style="display:inline-block;transform:scaleX(1.0);transform-origin:50% 50%">IQC来料检验</span></div><div class=t style="left:679.0px;width:1000px;text-align:center;top:721.0px;font-size:25.4px;line-height:25.4px;color:#1a1a1a;font-weight:700;"><span style="display:inline-block;transform:scaleX(1.11);transform-origin:50% 50%">(3-5天)</span></div><div class=t style="left:936.0px;width:1000px;text-align:center;top:650.0px;font-size:25.4px;line-height:25.4px;color:#1a1a1a;font-weight:700;"><span style="display:inline-block;transform:scaleX(1.0);transform-origin:50% 50%">COMPONENT</span></div><div class=t style="left:936.0px;width:1000px;text-align:center;top:676.0px;font-size:25.4px;line-height:25.4px;color:#1a1a1a;font-weight:700;"><span style="display:inline-block;transform:scaleX(1.0);transform-origin:50% 50%">PROCUREMENT</span></div><div class=t style="left:936.0px;width:1000px;text-align:center;top:706.0px;font-size:25.4px;line-height:25.4px;color:#1a1a1a;font-weight:700;"><span style="display:inline-block;transform:scaleX(1.0);transform-origin:50% 50%">(7-14 DAYS)</span></div><div class=t style="left:936.0px;width:1000px;text-align:center;top:734.3px;font-size:27.5px;line-height:27.5px;color:#1a1a1a;font-weight:700;"><span style="display:inline-block;transform:scaleX(1.0);transform-origin:50% 50%">组件采购</span></div><div class=t style="left:936.0px;width:1000px;text-align:center;top:765.0px;font-size:25.4px;line-height:25.4px;color:#1a1a1a;font-weight:700;"><span style="display:inline-block;transform:scaleX(1.11);transform-origin:50% 50%">(7-14天)</span></div><div class=t style="left:1208.5px;width:1000px;text-align:center;top:578.0px;font-size:25.4px;line-height:25.4px;color:#1a1a1a;font-weight:700;"><span style="display:inline-block;transform:scaleX(1.0);transform-origin:50% 50%">PRODUCTION LINE</span></div><div class=t style="left:1208.5px;width:1000px;text-align:center;top:604.3px;font-size:25.4px;line-height:25.4px;color:#1a1a1a;font-weight:700;"><span style="display:inline-block;transform:scaleX(1.0);transform-origin:50% 50%">SCHEDULING</span></div><div class=t style="left:1208.5px;width:1000px;text-align:center;top:632.0px;font-size:25.4px;line-height:25.4px;color:#1a1a1a;font-weight:700;"><span style="display:inline-block;transform:scaleX(1.0);transform-origin:50% 50%">WAIT TIME</span></div><div class=t style="left:1208.5px;width:1000px;text-align:center;top:662.0px;font-size:25.4px;line-height:25.4px;color:#1a1a1a;font-weight:700;"><span style="display:inline-block;transform:scaleX(1.0);transform-origin:50% 50%">(3-7 DAYS)</span></div><div class=t style="left:1208.5px;width:1000px;text-align:center;top:689.3px;font-size:27.5px;line-height:27.5px;color:#1a1a1a;font-weight:700;"><span style="display:inline-block;transform:scaleX(1.0);transform-origin:50% 50%">产线排程</span></div><div class=t style="left:1208.5px;width:1000px;text-align:center;top:720.3px;font-size:27.5px;line-height:27.5px;color:#1a1a1a;font-weight:700;"><span style="display:inline-block;transform:scaleX(1.0);transform-origin:50% 50%">等待时间</span></div><div class=t style="left:1555.0px;width:1000px;text-align:center;top:678.0px;font-size:25.4px;line-height:25.4px;color:#1a1a1a;font-weight:700;"><span style="display:inline-block;transform:scaleX(1.0);transform-origin:50% 50%">ACTUAL</span></div><div class=t style="left:1555.0px;width:1000px;text-align:center;top:704.4px;font-size:25.4px;line-height:25.4px;color:#1a1a1a;font-weight:700;"><span style="display:inline-block;transform:scaleX(1.0);transform-origin:50% 50%">PRODUCTION</span></div><div class=t style="left:1555.0px;width:1000px;text-align:center;top:733.0px;font-size:25.4px;line-height:25.4px;color:#1a1a1a;font-weight:700;"><span style="display:inline-block;transform:scaleX(1.0);transform-origin:50% 50%">(3-5 DAYS)</span></div><div class=t style="left:1555.0px;width:1000px;text-align:center;top:762.0px;font-size:25.4px;line-height:25.4px;color:#1a1a1a;font-weight:700;"><span style="display:inline-block;transform:scaleX(1.11);transform-origin:50% 50%">(3-5天)</span></div><div class=t style="left:1892.0px;width:1000px;text-align:center;top:576.5px;font-size:25.4px;line-height:25.4px;color:#1a1a1a;font-weight:700;"><span style="display:inline-block;transform:scaleX(1.0);transform-origin:50% 50%">CERTIFICATION</span></div><div class=t style="left:1892.0px;width:1000px;text-align:center;top:604.3px;font-size:25.4px;line-height:25.4px;color:#1a1a1a;font-weight:700;"><span style="display:inline-block;transform:scaleX(1.0);transform-origin:50% 50%">COMPLIANCE</span></div><div class=t style="left:1892.0px;width:1000px;text-align:center;top:631.5px;font-size:25.4px;line-height:25.4px;color:#1a1a1a;font-weight:700;"><span style="display:inline-block;transform:scaleX(1.0);transform-origin:50% 50%">CHECK</span></div><div class=t style="left:1892.0px;width:1000px;text-align:center;top:660.5px;font-size:25.4px;line-height:25.4px;color:#1a1a1a;font-weight:700;"><span style="display:inline-block;transform:scaleX(1.0);transform-origin:50% 50%">(2-4 DAYS)</span></div><div class=t style="left:1892.0px;width:1000px;text-align:center;top:688.3px;font-size:27.5px;line-height:27.5px;color:#1a1a1a;font-weight:700;"><span style="display:inline-block;transform:scaleX(1.0);transform-origin:50% 50%">认证合规检查</span></div><div class=t style="left:1892.0px;width:1000px;text-align:center;top:720.0px;font-size:25.4px;line-height:25.4px;color:#1a1a1a;font-weight:700;"><span style="display:inline-block;transform:scaleX(1.11);transform-origin:50% 50%">(2-4天)</span></div><div class=t style="left:935.0px;width:1000px;text-align:center;top:983.0px;font-size:25.4px;line-height:25.4px;color:#1a1a1a;font-weight:700;"><span style="display:inline-block;transform:scaleX(1.0);transform-origin:50% 50%">FROM</span></div><div class=t style="left:935.0px;width:1000px;text-align:center;top:1009.0px;font-size:25.4px;line-height:25.4px;color:#1a1a1a;font-weight:700;"><span style="display:inline-block;transform:scaleX(1.0);transform-origin:50% 50%">AUTHORIZED SUPPLIERS</span></div><div class=t style="left:935.0px;width:1000px;text-align:center;top:1041.3px;font-size:27.5px;line-height:27.5px;color:#1a1a1a;font-weight:700;"><span style="display:inline-block;transform:scaleX(1.0);transform-origin:50% 50%">来自授权供应商</span></div><div class=t style="left:1208.0px;width:1000px;text-align:center;top:977.3px;font-size:27.5px;line-height:27.5px;color:#1a1a1a;font-weight:700;"><span style="display:inline-block;transform:scaleX(1.0);transform-origin:50% 50%">产线排程</span></div><div class=t style="left:1208.0px;width:1000px;text-align:center;top:1009.3px;font-size:27.5px;line-height:27.5px;color:#1a1a1a;font-weight:700;"><span style="display:inline-block;transform:scaleX(1.0);transform-origin:50% 50%">等待时间</span></div><div class=t style="left:1208.0px;width:1000px;text-align:center;top:1038.0px;font-size:25.4px;line-height:25.4px;color:#1a1a1a;font-weight:700;"><span style="display:inline-block;transform:scaleX(1.11);transform-origin:50% 50%">(3-7天)</span></div><div class=t style="left:1383.0px;width:1000px;text-align:center;top:1003.0px;font-size:25.4px;line-height:25.4px;color:#1a1a1a;font-weight:700;"><span style="display:inline-block;transform:scaleX(1.0);transform-origin:50% 50%">IPQC</span></div><div class=t style="left:1383.0px;width:1000px;text-align:center;top:1030.0px;font-size:25.4px;line-height:25.4px;color:#1a1a1a;font-weight:700;"><span style="display:inline-block;transform:scaleX(1.0);transform-origin:50% 50%">IN-PROCESS</span></div><div class=t style="left:1383.0px;width:1000px;text-align:center;top:1058.0px;font-size:25.4px;line-height:25.4px;color:#1a1a1a;font-weight:700;"><span style="display:inline-block;transform:scaleX(1.0);transform-origin:50% 50%">INSPECTION</span></div><div class=t style="left:1383.0px;width:1000px;text-align:center;top:1087.0px;font-size:25.4px;line-height:25.4px;color:#1a1a1a;font-weight:700;"><span style="display:inline-block;transform:scaleX(1.0);transform-origin:50% 50%">(2-3 DAYS)</span></div><div class=t style="left:1383.0px;width:1000px;text-align:center;top:1117.3px;font-size:27.5px;line-height:27.5px;color:#1a1a1a;font-weight:700;"><span style="display:inline-block;transform:scaleX(1.0);transform-origin:50% 50%">IPQC制程中检验</span></div><div class=t style="left:1383.0px;width:1000px;text-align:center;top:1147.0px;font-size:25.4px;line-height:25.4px;color:#1a1a1a;font-weight:700;"><span style="display:inline-block;transform:scaleX(1.11);transform-origin:50% 50%">(2-3天)</span></div><div class=t style="left:1555.0px;width:1000px;text-align:center;top:975.0px;font-size:25.4px;line-height:25.4px;color:#1a1a1a;font-weight:700;"><span style="display:inline-block;transform:scaleX(1.0);transform-origin:50% 50%">ACTUAL</span></div><div class=t style="left:1555.0px;width:1000px;text-align:center;top:1001.0px;font-size:25.4px;line-height:25.4px;color:#1a1a1a;font-weight:700;"><span style="display:inline-block;transform:scaleX(1.0);transform-origin:50% 50%">PRODUCTION</span></div><div class=t style="left:1555.0px;width:1000px;text-align:center;top:1033.3px;font-size:27.5px;line-height:27.5px;color:#1a1a1a;font-weight:700;"><span style="display:inline-block;transform:scaleX(1.0);transform-origin:50% 50%">实际生产</span></div><div class=t style="left:1555.0px;width:1000px;text-align:center;top:1063.0px;font-size:25.4px;line-height:25.4px;color:#1a1a1a;font-weight:700;"><span style="display:inline-block;transform:scaleX(1.11);transform-origin:50% 50%">(3-5天)</span></div><div class=t style="left:1727.0px;width:1000px;text-align:center;top:1003.0px;font-size:25.4px;line-height:25.4px;color:#1a1a1a;font-weight:700;"><span style="display:inline-block;transform:scaleX(1.0);transform-origin:50% 50%">FQC</span></div><div class=t style="left:1727.0px;width:1000px;text-align:center;top:1029.0px;font-size:25.4px;line-height:25.4px;color:#1a1a1a;font-weight:700;"><span style="display:inline-block;transform:scaleX(1.0);transform-origin:50% 50%">FINAL</span></div><div class=t style="left:1727.0px;width:1000px;text-align:center;top:1055.0px;font-size:25.4px;line-height:25.4px;color:#1a1a1a;font-weight:700;"><span style="display:inline-block;transform:scaleX(1.0);transform-origin:50% 50%">QUALITY</span></div><div class=t style="left:1727.0px;width:1000px;text-align:center;top:1081.0px;font-size:25.4px;line-height:25.4px;color:#1a1a1a;font-weight:700;"><span style="display:inline-block;transform:scaleX(1.0);transform-origin:50% 50%">CONTROL</span></div><div class=t style="left:1727.0px;width:1000px;text-align:center;top:1109.0px;font-size:25.4px;line-height:25.4px;color:#1a1a1a;font-weight:700;"><span style="display:inline-block;transform:scaleX(1.0);transform-origin:50% 50%">(2-3 DAYS)</span></div><div class=t style="left:1727.0px;width:1000px;text-align:center;top:1140.3px;font-size:27.5px;line-height:27.5px;color:#1a1a1a;font-weight:700;"><span style="display:inline-block;transform:scaleX(1.0);transform-origin:50% 50%">FQC最终</span></div><div class=t style="left:1727.0px;width:1000px;text-align:center;top:1172.3px;font-size:27.5px;line-height:27.5px;color:#1a1a1a;font-weight:700;"><span style="display:inline-block;transform:scaleX(1.0);transform-origin:50% 50%">质量控制</span></div><div class=t style="left:1727.0px;width:1000px;text-align:center;top:1200.0px;font-size:25.4px;line-height:25.4px;color:#1a1a1a;font-weight:700;"><span style="display:inline-block;transform:scaleX(1.11);transform-origin:50% 50%">(2-3天)</span></div><div class=t style="left:1891.0px;width:1000px;text-align:center;top:976.5px;font-size:25.4px;line-height:25.4px;color:#1a1a1a;font-weight:700;"><span style="display:inline-block;transform:scaleX(1.0);transform-origin:50% 50%">CERTIFICATION</span></div><div class=t style="left:1891.0px;width:1000px;text-align:center;top:1004.0px;font-size:25.4px;line-height:25.4px;color:#1a1a1a;font-weight:700;"><span style="display:inline-block;transform:scaleX(1.0);transform-origin:50% 50%">COMPLIANCE</span></div><div class=t style="left:1891.0px;width:1000px;text-align:center;top:1032.0px;font-size:25.4px;line-height:25.4px;color:#1a1a1a;font-weight:700;"><span style="display:inline-block;transform:scaleX(1.0);transform-origin:50% 50%">CHECK</span></div><div class=t style="left:1891.0px;width:1000px;text-align:center;top:1064.3px;font-size:27.5px;line-height:27.5px;color:#1a1a1a;font-weight:700;"><span style="display:inline-block;transform:scaleX(1.0);transform-origin:50% 50%">认证合规检查</span></div><div class=t style="left:1891.0px;width:1000px;text-align:center;top:1095.0px;font-size:25.4px;line-height:25.4px;color:#1a1a1a;font-weight:700;"><span style="display:inline-block;transform:scaleX(1.11);transform-origin:50% 50%">(2-4天)</span></div><div class=t style="left:2075.0px;width:1000px;text-align:center;top:975.0px;font-size:25.4px;line-height:25.4px;color:#1a1a1a;font-weight:700;"><span style="display:inline-block;transform:scaleX(1.0);transform-origin:50% 50%">MASS</span></div><div class=t style="left:2075.0px;width:1000px;text-align:center;top:1001.0px;font-size:25.4px;line-height:25.4px;color:#1a1a1a;font-weight:700;"><span style="display:inline-block;transform:scaleX(1.0);transform-origin:50% 50%">PRODUCTION</span></div><div class=t style="left:2075.0px;width:1000px;text-align:center;top:1029.0px;font-size:25.4px;line-height:25.4px;color:#1a1a1a;font-weight:700;"><span style="display:inline-block;transform:scaleX(1.0);transform-origin:50% 50%">COMPLETED</span></div><div class=t style="left:2075.0px;width:1000px;text-align:center;top:1061.3px;font-size:27.5px;line-height:27.5px;color:#1a1a1a;font-weight:700;"><span style="display:inline-block;transform:scaleX(1.0);transform-origin:50% 50%">量产完成</span></div><div class=t style="left:200.0px;top:1438.5px;font-size:29px;line-height:29px;color:#151515;font-weight:700;"><span style="display:inline-block;transform:scaleX(0.969);transform-origin:0 50%">PROFESSIONAL B2B TECHNICAL DOCUMENTATION</span></div><div class=t style="left:199.0px;top:1475.3px;font-size:29px;line-height:29px;color:#151515;font-weight:700;"><span style="display:inline-block;transform:scaleX(1.0);transform-origin:0 50%">专业B2B技术文档</span></div><div class=t style="left:2080.0px;top:1438.5px;font-size:29px;line-height:29px;color:#151515;font-weight:700;"><span style="display:inline-block;transform:scaleX(0.966);transform-origin:0 50%">CUSTOM 3C MANUFACTURING SOLUTIONS</span></div><div class=t style="left:2079.0px;top:1472.3px;font-size:29px;line-height:29px;color:#151515;font-weight:700;"><span style="display:inline-block;transform:scaleX(1.0);transform-origin:0 50%">定制3C制造解决方案</span></div>
</body></html>
